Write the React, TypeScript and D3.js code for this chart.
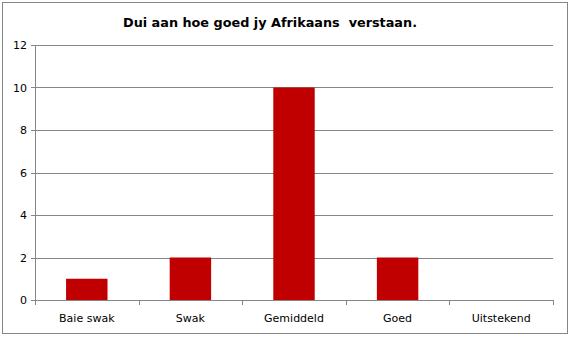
import React from "react";
import * as d3 from "d3";

const title = "Dui aan hoe goed jy Afrikaans  verstaan.";
const categories = ["Baie swak", "Swak", "Gemiddeld", "Goed", "Uitstekend"];
const values = [1, 2, 10, 2, 0];
const yTicks = [0, 2, 4, 6, 8, 10, 12];

const W = 574;
const H = 339;
const left = 35;
const right = 553;
const top = 45;
const bottom = 300;
const gray = "#868686";
const barColor = "#C00000";
const font = "Tahoma, 'DejaVu Sans', sans-serif";

export default function App() {
  const x = d3.scaleBand<string>().domain(categories).range([left, right]).paddingInner(0).paddingOuter(0);
  const y = d3.scaleLinear().domain([0, 12]).range([bottom, top]);
  const bw = x.bandwidth() * 0.4;
  const boundaries = d3.range(categories.length + 1).map((i) => left + i * x.step());

  return (
    <svg width={W} height={H} style={{ position: "absolute", left: 0, top: 0 }}>
      <rect x={0} y={0} width={W} height={H} fill="white" />
      <rect x={2.5} y={2.5} width={565} height={331} fill="white" stroke={gray} strokeWidth={1} />
      <text x={270} y={27} textAnchor="middle" fontFamily={font} fontWeight="bold" fontSize={13} fill="#000" textLength={294} lengthAdjust="spacingAndGlyphs" style={{ whiteSpace: "pre" }}>
        {title}
      </text>
      {yTicks.map((t) => (
        <g key={t}>
          <line x1={left} x2={right} y1={Math.round(y(t)) + 0.5} y2={Math.round(y(t)) + 0.5} stroke={gray} />
          <line x1={left - 4} x2={left} y1={Math.round(y(t)) + 0.5} y2={Math.round(y(t)) + 0.5} stroke={gray} />
          <text x={27} y={y(t) + 4} textAnchor="end" fontFamily={font} fontSize={11} fill="#000">
            {t}
          </text>
        </g>
      ))}
      <line x1={left + 0.5} x2={left + 0.5} y1={top} y2={bottom} stroke={gray} />
      {boundaries.map((b, i) => (
        <line key={i} x1={Math.round(b) + 0.5} x2={Math.round(b) + 0.5} y1={bottom} y2={bottom + 5} stroke={gray} />
      ))}
      {categories.map((c, i) => {
        const cx = (x(c) as number) + x.bandwidth() / 2;
        return (
          <g key={c}>
            {values[i] > 0 && (
              <rect x={cx - bw / 2} y={y(values[i])} width={bw} height={bottom - y(values[i])} fill={barColor} />
            )}
            <text x={cx} y={322} textAnchor="middle" fontFamily={font} fontSize={11} fill="#000">
              {c}
            </text>
          </g>
        );
      })}
    </svg>
  );
}
